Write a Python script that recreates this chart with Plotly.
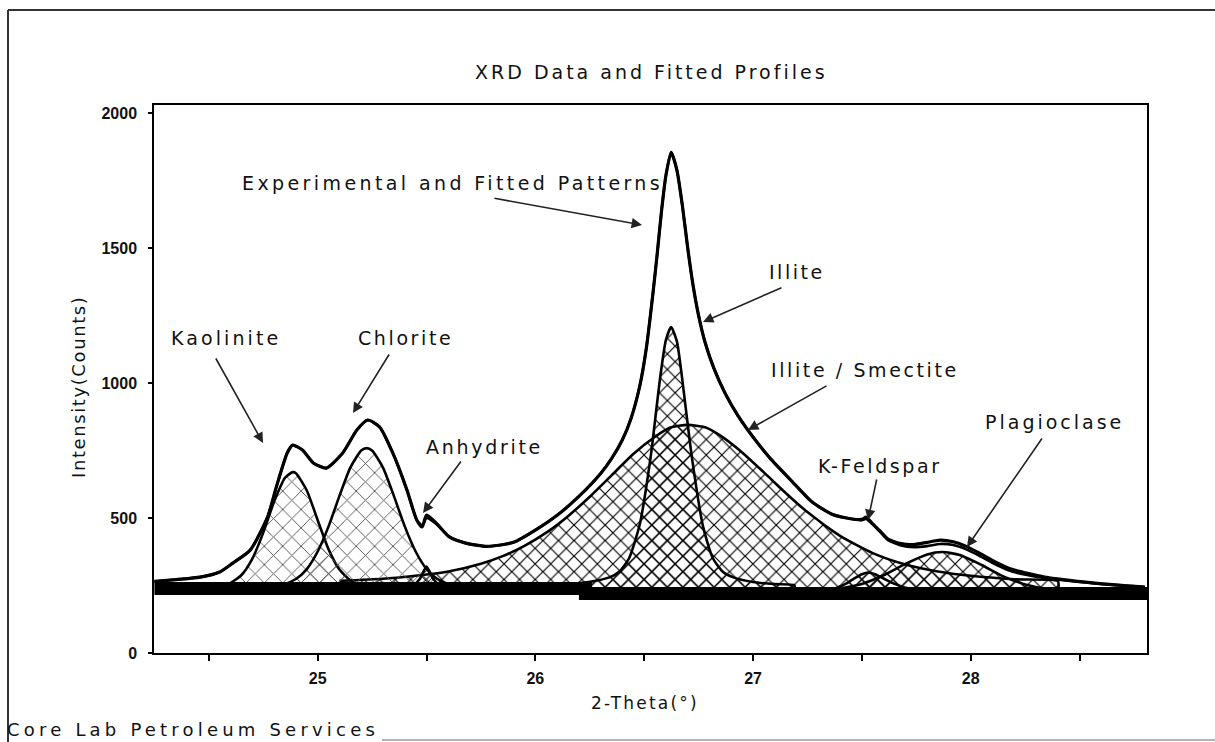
import plotly.graph_objects as go

# ---------------- data ----------------
x_ticks = [25, 26, 27, 28]
x_minor = [24.5, 25.5, 26.5, 27.5, 28.5]
y_ticks = [0, 500, 1000, 1500, 2000]

kaol_x = [24.50, 24.55, 24.60, 24.65, 24.70, 24.75, 24.80, 24.85, 24.885, 24.90, 24.95, 25.00, 25.05, 25.10, 25.15, 25.20, 25.25]
kaol_y = [246, 249, 260, 289, 350, 446, 561, 649, 670, 666, 602, 492, 384, 309, 269, 252, 246]

chl_x = [24.80, 24.85, 24.90, 24.95, 25.00, 25.05, 25.10, 25.15, 25.20, 25.225, 25.25, 25.30, 25.35, 25.40, 25.45, 25.50, 25.55, 25.60, 25.65]
chl_y = [249, 256, 274, 311, 376, 469, 582, 687, 750, 759, 750, 687, 582, 469, 376, 311, 274, 256, 249]

anh_x = [25.40, 25.44, 25.47, 25.50, 25.53, 25.56, 25.60]
anh_y = [246, 252, 275, 320, 275, 252, 246]

is_x = [25.10, 25.30, 25.45, 25.60, 25.75, 25.85, 25.95, 26.05, 26.15, 26.25, 26.35, 26.45, 26.55, 26.62, 26.70,
        26.78, 26.85, 26.95, 27.05, 27.15, 27.25, 27.40, 27.55, 27.70, 27.85, 28.00, 28.20, 28.40]
is_y = [267, 275, 286, 302, 331, 359, 397, 446, 507, 579, 658, 737, 801, 835, 845,
        836, 805, 743, 669, 593, 522, 434, 370, 328, 302, 286, 273, 266]

il_x = [26.05, 26.15, 26.245, 26.34, 26.385, 26.43, 26.48, 26.53, 26.55, 26.575, 26.60, 26.624, 26.65, 26.67,
        26.695, 26.72, 26.77, 26.815, 26.86, 26.91, 27.00, 27.10, 27.19]
il_y = [251, 255, 263, 280, 301, 350, 478, 728, 862, 1030, 1160, 1207, 1155, 1045,
        880, 720, 470, 352, 302, 280, 263, 255, 251]

kf_x = [27.30, 27.38, 27.43, 27.47, 27.50, 27.53, 27.56, 27.60, 27.65, 27.72, 27.80]
kf_y = [232, 240, 258, 278, 292, 298, 292, 276, 256, 238, 231]

pl_x = [27.40, 27.50, 27.60, 27.70, 27.80, 27.87, 27.95, 28.05, 28.15, 28.25, 28.35, 28.45]
pl_y = [239, 256, 288, 330, 365, 374, 363, 326, 284, 254, 238, 232]

base_x = [24.25, 26.23, 26.23, 28.81]
base_y = [239, 239, 220, 220]

tot_x = [24.25, 24.35, 24.46, 24.55, 24.61, 24.69, 24.77, 24.81, 24.86, 24.885, 24.93, 24.98, 25.04, 25.115,
         25.18, 25.23, 25.285, 25.345, 25.41, 25.455, 25.48, 25.50, 25.545, 25.605, 25.68, 25.78, 25.90,
         26.00, 26.10, 26.20, 26.30, 26.35, 26.40, 26.44, 26.48, 26.51, 26.54, 26.56, 26.58, 26.60, 26.624,
         26.65, 26.675, 26.70, 26.725, 26.75, 26.78, 26.82, 26.87, 26.93, 27.00, 27.08, 27.18, 27.27, 27.36,
         27.43, 27.50, 27.52, 27.55, 27.58, 27.62, 27.68, 27.74, 27.80, 27.86, 27.92, 27.98, 28.04, 28.12,
         28.19, 28.34, 28.57, 28.80]
exp_y = [265, 272, 281, 300, 333, 381, 504, 615, 741, 770, 752, 704, 685, 741,
         826, 863, 837, 741, 604, 493, 467, 511, 481, 430, 407, 395, 410,
         455, 510, 580, 665, 720, 790, 870, 990, 1130, 1330, 1480, 1640, 1770, 1855,
         1790, 1660, 1500, 1360, 1250, 1150, 1055, 965, 880, 800, 720, 635, 560, 515,
         500, 495, 503, 478, 455, 422, 405, 402, 410, 418, 412, 395, 370, 335,
         310, 281, 259, 244]
fit_y = [265, 272, 281, 300, 333, 381, 504, 615, 741, 770, 752, 704, 685, 741,
         826, 863, 837, 741, 604, 493, 472, 500, 478, 430, 407, 395, 410,
         455, 510, 580, 665, 720, 790, 870, 990, 1130, 1330, 1480, 1640, 1770, 1855,
         1790, 1660, 1500, 1360, 1250, 1150, 1055, 965, 880, 800, 720, 635, 560, 515,
         500, 492, 496, 476, 452, 418, 398, 392, 396, 404, 400, 384, 360, 326,
         302, 278, 258, 244]

# ---------------- layout helpers ----------------
W, H = 1215, 742
PL, PR, PT, PB = 154, 1147, 105, 653
FONT = "DejaVu Sans"
TXT = "#111111"


def paper(px, py):
    return (px - PL) / (PR - PL), (PB - py) / (PB - PT)


def spaced(text, s):
    return '<span style="letter-spacing:%spx">%s</span>' % (s, text)


fig = go.Figure()


def component(x, y, base, size, sol, fg):
    xs = list(x) + [x[-1], x[0]]
    ys = list(y) + [base, base]
    fig.add_trace(go.Scatter(
        x=xs, y=ys, mode="lines", fill="toself", fillcolor="rgba(0,0,0,0)",
        fillpattern=dict(shape="x", size=size, solidity=sol, fgcolor=fg,
                         bgcolor="rgba(0,0,0,0)", fillmode="replace"),
        line=dict(color="black", width=2.6, shape="spline", smoothing=0.6),
        hoverinfo="skip", showlegend=False))


component(is_x, is_y, 238, 11, 0.2, "black")
component(il_x, il_y, 238, 11, 0.2, "black")
component(kaol_x, kaol_y, 242, 13, 0.14, "#555555")
component(chl_x, chl_y, 242, 13, 0.14, "#555555")
component(anh_x, anh_y, 242, 9, 0.2, "black")
component(kf_x, kf_y, 226, 11, 0.2, "black")
component(pl_x, pl_y, 226, 11, 0.2, "black")

fig.add_trace(go.Scatter(x=base_x, y=base_y, mode="lines",
                         line=dict(color="black", width=13),
                         hoverinfo="skip", showlegend=False))
fig.add_trace(go.Scatter(x=tot_x, y=fit_y, mode="lines",
                         line=dict(color="black", width=2.6, shape="spline", smoothing=0.6),
                         hoverinfo="skip", showlegend=False))
fig.add_trace(go.Scatter(x=tot_x, y=exp_y, mode="lines",
                         line=dict(color="black", width=3.2, shape="spline", smoothing=0.6),
                         hoverinfo="skip", showlegend=False))

annotations = []

# labels inside the plot (pixel centres) and arrows (tail -> tip)
labels = [
    ("Experimental and Fitted Patterns", 452, 183, 3.4),
    ("Illite", 797, 272, 2.5),
    ("Illite / Smectite", 865, 370, 2.6),
    ("Kaolinite", 226, 338, 3.1),
    ("Chlorite", 405, 338, 2.6),
    ("Anhydrite", 484, 447, 2.7),
    ("K-Feldspar", 880, 466, 2.6),
    ("Plagioclase", 1054, 422, 3.0),
]
for text, px, py, s in labels:
    xp, yp = paper(px, py)
    annotations.append(dict(x=xp, y=yp, xref="paper", yref="paper", text=spaced(text, s),
                            showarrow=False, xanchor="center", yanchor="middle",
                            font=dict(family=FONT, size=19, color=TXT)))

arrows = [
    (493, 198, 642, 225),
    (783, 287, 703, 322),
    (828, 385, 748, 430),
    (215, 357, 263, 443),
    (390, 353, 353, 413),
    (462, 460, 423, 513),
    (877, 478, 868, 520),
    (1043, 437, 967, 547),
]
for tx, ty, hx, hy in arrows:
    xp, yp = paper(hx, hy)
    annotations.append(dict(x=xp, y=yp, xref="paper", yref="paper", text="",
                            showarrow=True, ax=tx - hx, ay=ty - hy, axref="pixel", ayref="pixel",
                            arrowhead=2, arrowsize=1.3, arrowwidth=1.6, arrowcolor="#222222",
                            standoff=0, startstandoff=0))

# title, axis titles, footer
xp, yp = paper(651, 72)
annotations.append(dict(x=xp, y=yp, xref="paper", yref="paper", text=spaced("XRD Data and Fitted Profiles", 3.0),
                        showarrow=False, xanchor="center", yanchor="middle",
                        font=dict(family=FONT, size=19, color=TXT)))
xp, yp = paper(78, 387)
annotations.append(dict(x=xp, y=yp, xref="paper", yref="paper", text=spaced("Intensity(Counts)", 1.6),
                        showarrow=False, textangle=-90, xanchor="center", yanchor="middle",
                        font=dict(family=FONT, size=18, color=TXT)))
xp, yp = paper(645, 703)
annotations.append(dict(x=xp, y=yp, xref="paper", yref="paper", text=spaced("2-Theta(°)", 2.2),
                        showarrow=False, xanchor="center", yanchor="middle",
                        font=dict(family=FONT, size=17, color=TXT)))
xp, yp = paper(5, 729)
annotations.append(dict(x=xp, y=yp, xref="paper", yref="paper", text=spaced("Core Lab Petroleum Services", 4.2),
                        showarrow=False, xanchor="left", yanchor="middle",
                        font=dict(family=FONT, size=18, color=TXT)))

# outer frame lines
shapes = []
x0, y0 = paper(8, 10)
x1, _ = paper(1215, 10)
shapes.append(dict(type="line", xref="paper", yref="paper", x0=x0, y0=y0, x1=x1, y1=y0,
                   line=dict(color="#333333", width=2)))
_, yb = paper(8, 742)
shapes.append(dict(type="line", xref="paper", yref="paper", x0=x0, y0=y0, x1=x0, y1=yb,
                   line=dict(color="#333333", width=2)))
xa, ya = paper(382, 740)
shapes.append(dict(type="line", xref="paper", yref="paper", x0=xa, y0=ya, x1=x1, y1=ya,
                   line=dict(color="#999999", width=1.5)))

fig.update_layout(
    width=W, height=H,
    margin=dict(l=PL, r=W - PR, t=PT, b=H - PB, pad=0),
    paper_bgcolor="white", plot_bgcolor="white",
    showlegend=False,
    annotations=annotations,
    shapes=shapes,
    xaxis=dict(range=[24.248, 28.81], tickvals=x_ticks, ticks="outside", ticklen=6, tickwidth=1.5,
               tickcolor="black", showline=True, linecolor="black", linewidth=1.5, mirror=True,
               showgrid=False, zeroline=False,
               minor=dict(tickvals=x_minor, ticks="outside", ticklen=6, tickwidth=1.5, tickcolor="black"),
               tickfont=dict(family="Liberation Sans", size=16, color=TXT, weight="bold"),
               ticklabelstandoff=4),
    yaxis=dict(range=[0, 2030], tickvals=y_ticks, ticks="outside", ticklen=4, tickwidth=1.5,
               tickcolor="black", showline=True, linecolor="black", linewidth=1.5, mirror=True,
               showgrid=False, zeroline=False,
               tickfont=dict(family="Liberation Sans", size=16, color=TXT, weight="bold"),
               ticklabelstandoff=8),
)

fig.write_html("out.html")
